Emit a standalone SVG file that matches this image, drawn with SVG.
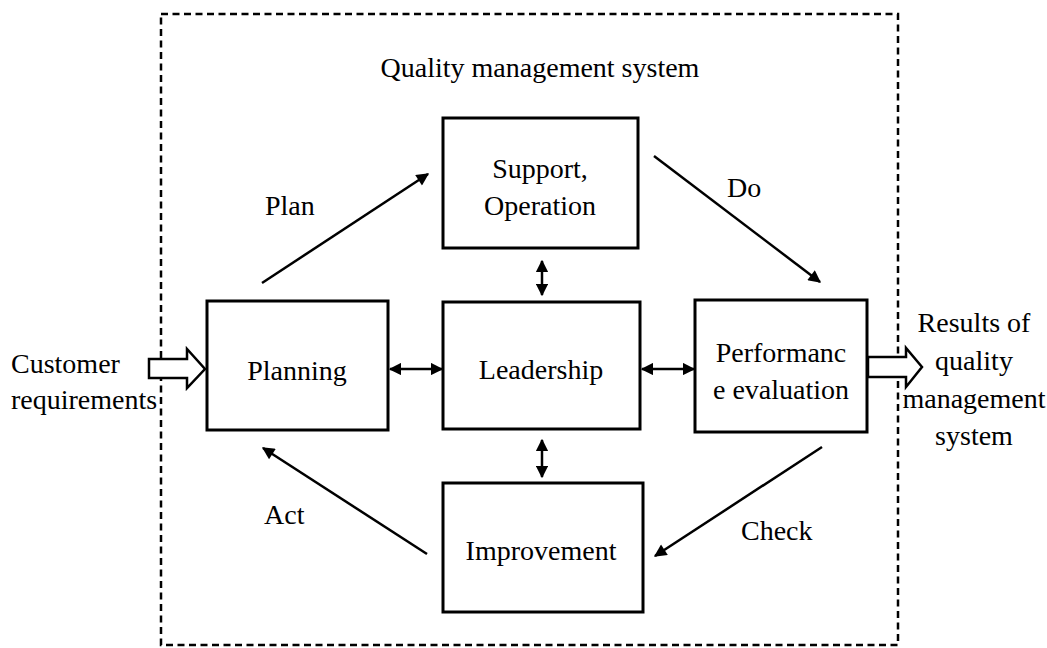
<svg xmlns="http://www.w3.org/2000/svg" width="1047" height="648" viewBox="0 0 1047 648">
<style>
.t{font-family:"Liberation Serif","Times New Roman",serif;font-size:28px;fill:#000}
.m{text-anchor:middle}
.box{fill:#fff;stroke:#000;stroke-width:3}
.ln{stroke:#000;stroke-width:2.5;fill:none}
.hollow{fill:#fff;stroke:#000;stroke-width:2.5;stroke-linejoin:miter}
</style>
<defs>
<marker id="ah" viewBox="0 0 10 10" refX="9" refY="5" markerWidth="6" markerHeight="5" markerUnits="strokeWidth" orient="auto-start-reverse">
<path d="M0,0 L10,5 L0,10 z" fill="#000"/>
</marker>
<marker id="dh" viewBox="0 0 10 10" refX="9" refY="5" markerWidth="5" markerHeight="5" markerUnits="strokeWidth" orient="auto-start-reverse">
<path d="M0,0 L10,5 L0,10 z" fill="#000"/>
</marker>
</defs>
<rect width="1047" height="648" fill="#fff"/>
<g id="system-boundary">
<rect x="161" y="14" width="737" height="631" fill="none" stroke="#000" stroke-width="2.5" stroke-dasharray="7,4.5"/>
<text class="t m" x="540" y="77">Quality management system</text>
</g>
<g id="connectors">
<line class="ln" x1="262" y1="283" x2="428" y2="174" marker-end="url(#ah)"/>
<line class="ln" x1="654" y1="156" x2="820" y2="282" marker-end="url(#ah)"/>
<line class="ln" x1="822" y1="447" x2="655" y2="556" marker-end="url(#ah)"/>
<line class="ln" x1="427" y1="554" x2="263" y2="448" marker-end="url(#ah)"/>
<line class="ln" x1="542" y1="261" x2="542" y2="295" marker-start="url(#dh)" marker-end="url(#dh)"/>
<line class="ln" x1="542" y1="440" x2="542" y2="477" marker-start="url(#dh)" marker-end="url(#dh)"/>
<line class="ln" x1="390" y1="369" x2="442" y2="369" marker-start="url(#dh)" marker-end="url(#dh)"/>
<line class="ln" x1="642" y1="369" x2="694" y2="369" marker-start="url(#dh)" marker-end="url(#dh)"/>
<polygon class="hollow" points="149,359 187,359 187,349 205,369 187,388 187,378 149,378"/>
<polygon class="hollow" points="868,357 906,357 906,348 922,367 906,387 906,377 868,377"/>
<text class="t" x="265" y="215">Plan</text>
<text class="t" x="727" y="197">Do</text>
<text class="t" x="741" y="540">Check</text>
<text class="t" x="264" y="524">Act</text>
</g>
<g id="support-operation">
<rect class="box" x="443" y="118" width="195" height="130"/>
<text class="t m" x="540" y="178">Support,</text>
<text class="t m" x="540" y="215">Operation</text>
</g>
<g id="planning">
<rect class="box" x="207" y="301" width="181" height="129"/>
<text class="t m" x="297" y="380">Planning</text>
</g>
<g id="leadership">
<rect class="box" x="443" y="302" width="197" height="127"/>
<text class="t m" x="541" y="379">Leadership</text>
</g>
<g id="performance-evaluation">
<rect class="box" x="695" y="300" width="172" height="132"/>
<text class="t m" x="781" y="362">Performanc</text>
<text class="t m" x="781" y="399">e evaluation</text>
</g>
<g id="improvement">
<rect class="box" x="443" y="483" width="200" height="129"/>
<text class="t m" x="541" y="560">Improvement</text>
</g>
<g id="customer-requirements">
<text class="t" x="11" y="373">Customer</text>
<text class="t" x="11" y="409">requirements</text>
</g>
<g id="results">
<text class="t m" x="974" y="332">Results of</text>
<text class="t m" x="974" y="370">quality</text>
<text class="t m" x="974" y="408">management</text>
<text class="t m" x="974" y="445">system</text>
</g>
</svg>
